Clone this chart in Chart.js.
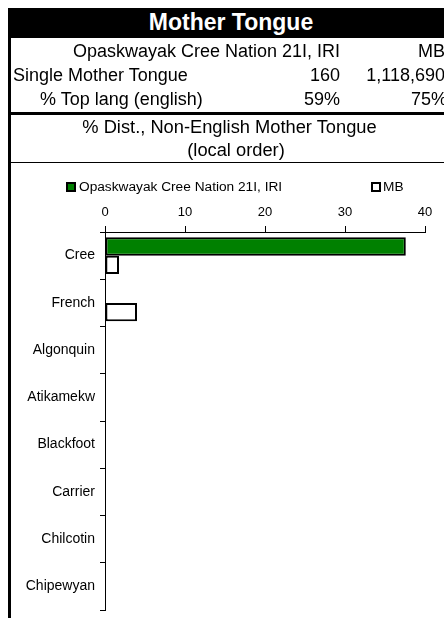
<!DOCTYPE html>
<html>
<head>
<meta charset="utf-8">
<script src="https://cdn.jsdelivr.net/npm/chart.js@4"></script>
<style>
  body { margin: 0; background: #fff; font-family: "Liberation Sans", Arial, sans-serif; }
  #wrap { position: relative; width: 444px; height: 618px; overflow: hidden; }
  #chart { position: absolute; left: 0; top: 0; }
  .t { position: absolute; white-space: nowrap; color: #000; font-size: 18px; line-height: 18px; }
  .r { text-align: right; }
  .box { position: absolute; background: #000; }
</style>
</head>
<body>
<div id="wrap">
  <canvas id="chart" width="444" height="618"></canvas>
  <div class="box" style="left:8px;top:8px;width:436px;height:30px;"></div>
  <div class="box" style="left:8px;top:8px;width:3px;height:610px;"></div>
  <div class="box" style="left:11px;top:112px;width:433px;height:3px;"></div>
  <div class="box" style="left:11px;top:162px;width:433px;height:1px;"></div>
  <div class="t" style="left:11px;width:440px;top:11px;text-align:center;color:#fff;font-weight:bold;font-size:23px;line-height:23px;">Mother Tongue</div>

  <div class="t r" style="right:104px;top:42px;">Opaskwayak Cree Nation 21I, IRI</div>
  <div class="t r" style="right:-1px;top:42px;">MB</div>

  <div class="t" style="left:13px;top:66px;">Single Mother Tongue</div>
  <div class="t r" style="right:104px;top:66px;">160</div>
  <div class="t r" style="right:-1px;top:66px;">1,118,690</div>

  <div class="t" style="left:40px;top:90px;">% Top lang (english)</div>
  <div class="t r" style="right:104px;top:90px;">59%</div>
  <div class="t r" style="right:-3px;top:90px;">75%</div>

  <div class="t" style="left:11px;width:437px;top:118px;text-align:center;font-size:18.3px;">% Dist., Non-English Mother Tongue</div>
  <div class="t" style="left:11px;width:450px;top:141px;text-align:center;font-size:18.3px;">(local order)</div>
</div>
<script>
const languages = ['Cree', 'French', 'Algonquin', 'Atikamekw', 'Blackfoot', 'Carrier', 'Chilcotin', 'Chipewyan'];
const localValues = [37.6, 0, 0, 0, 0, 0, 0, 0];
const mbValues = [1.75, 4.0, 0, 0, 0, 0, 0, 0];
const xTicks = [0, 10, 20, 30, 40];

// legend drawn by hand, the built-in one can't spread items like this
const sideLegend = {
    id: 'sideLegend',
    afterDraw(chart) {
        const ctx = chart.ctx;
        const spots = [[66, 182, 79], [371, 182, 383]];
        ctx.save();
        ctx.font = '13.7px "Liberation Sans", Arial, sans-serif';
        ctx.textBaseline = 'middle';
        chart.data.datasets.forEach(function (ds, i) {
            const s = spots[i];
            ctx.fillStyle = ds.backgroundColor;
            ctx.fillRect(s[0], s[1], 10, 10);
            ctx.strokeStyle = '#000';
            ctx.lineWidth = 2;
            ctx.strokeRect(s[0] + 1, s[1] + 1, 8, 8);
            ctx.fillStyle = '#000';
            ctx.fillText(ds.label, s[2], s[1] + 5.5);
        });
        ctx.restore();
    }
};

Chart.defaults.font.family = '"Liberation Sans", Arial, sans-serif';
Chart.defaults.color = '#000';

let ctx = document.getElementById('chart').getContext('2d');
let config = {
    type: 'bar',
    data: {
        labels: languages,
        datasets: [{
            label: 'Opaskwayak Cree Nation 21I, IRI',
            data: localValues,
            backgroundColor: '#008000',
            borderColor: '#000',
            borderWidth: 2,
            borderSkipped: false
        }, {
            label: 'MB',
            data: mbValues,
            backgroundColor: '#ffffff',
            borderColor: '#000',
            borderWidth: 2,
            borderSkipped: false
        }]
    },
    options: {
        indexAxis: 'y',
        responsive: false,
        animation: false,
        categoryPercentage: 0.78,
        barPercentage: 1.0,
        layout: { padding: { left: 0, top: 190, right: 19, bottom: 8 } },
        plugins: {
            legend: { display: false },
            tooltip: { enabled: false }
        },
        scales: {
            x: {
                position: 'top',
                min: 0,
                max: 40,
                afterBuildTicks: function (scale) {
                    scale.ticks = xTicks.map(function (v) { return { value: v }; });
                },
                afterFit: function (scale) { scale.height = 42; },
                ticks: { font: { size: 13 }, padding: 6, color: '#000', maxRotation: 0 },
                grid: { drawOnChartArea: false, drawTicks: true, tickLength: 6, color: '#000' },
                border: { display: true, color: '#000', width: 1 }
            },
            y: {
                afterFit: function (scale) {
                    scale.width = 105;
                    scale.paddingTop = 0;
                    scale.paddingBottom = 0;
                },
                ticks: { font: { size: 14 }, padding: 5, color: '#000' },
                grid: { offset: true, drawOnChartArea: false, drawTicks: true, tickLength: 5, color: '#000' },
                border: { display: true, color: '#000', width: 1 }
            }
        }
    },
    plugins: [sideLegend]
};

let mtChart = new Chart(ctx, config);
</script>
</body>
</html>
